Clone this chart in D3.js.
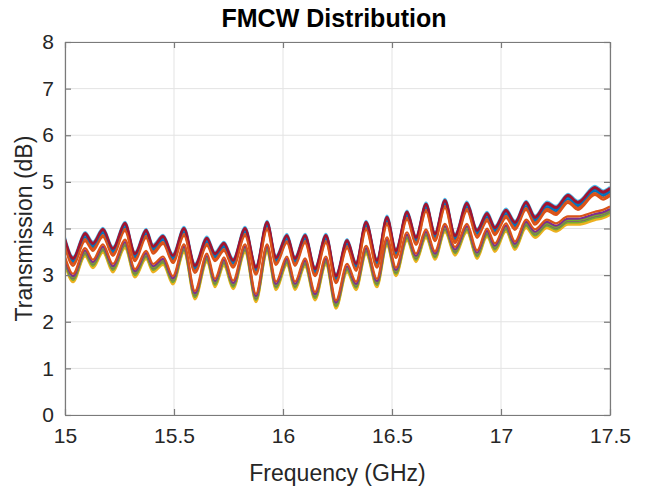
<!DOCTYPE html>
<html>
<head>
<meta charset="utf-8">
<script src="https://cdn.jsdelivr.net/npm/d3@7"></script>
<style>
  html, body { margin: 0; padding: 0; background: #fff; }
  svg { display: block; font-family: "Liberation Sans", Arial, Helvetica, sans-serif; }
</style>
</head>
<body>
<svg id="chart" width="654" height="494"></svg>
<script>
// ---- data ----
const freqs = [15.000, 15.037, 15.092, 15.128, 15.174, 15.220, 15.275, 15.321, 15.372, 15.404,
  15.450, 15.495, 15.546, 15.596, 15.651, 15.688, 15.729, 15.771, 15.826, 15.876,
  15.927, 15.968, 16.018, 16.055, 16.101, 16.147, 16.197, 16.243, 16.294, 16.335,
  16.381, 16.431, 16.477, 16.518, 16.569, 16.610, 16.656, 16.697, 16.743, 16.789,
  16.844, 16.890, 16.936, 16.972, 17.023, 17.064, 17.115, 17.156, 17.211, 17.252,
  17.307, 17.353, 17.431, 17.468, 17.500];

// upper bundle, top trace (dB)
const upperTop = [3.78, 3.37, 3.90, 3.69, 3.99, 3.58, 4.12, 3.47, 3.97, 3.63,
  3.84, 3.43, 4.01, 3.22, 3.80, 3.47, 3.69, 3.33, 4.01, 3.18,
  4.14, 3.39, 3.86, 3.37, 3.86, 3.15, 3.86, 3.00, 3.75, 3.26,
  4.14, 3.33, 4.25, 3.54, 4.36, 3.82, 4.53, 3.90, 4.61, 3.86,
  4.55, 3.97, 4.33, 4.03, 4.40, 4.14, 4.57, 4.25, 4.55, 4.46,
  4.72, 4.57, 4.89, 4.79, 4.87];

// lower bundle, bottom trace (dB)
const lowerBottom = [3.22, 2.85, 3.40, 3.15, 3.48, 3.06, 3.58, 2.95, 3.34, 3.06,
  3.22, 2.80, 3.48, 2.48, 3.28, 2.74, 3.20, 2.70, 3.48, 2.42,
  3.48, 2.68, 3.22, 2.68, 3.18, 2.46, 3.22, 2.28, 3.06, 2.68,
  3.45, 2.74, 3.63, 2.98, 3.74, 3.28, 3.80, 3.33, 3.92, 3.42,
  3.92, 3.35, 3.82, 3.50, 3.93, 3.54, 4.01, 3.80, 4.01, 3.93,
  4.08, 4.08, 4.18, 4.22, 4.29];

// individual measured traces: colour, bundle and offset (dB) within the bundle
const traceColors  = ["#4DBEEE", "#0072BD", "#D95319", "#0072BD", "#A2142F", "#A2142F", "#D95319",
                      "#EDB120", "#EDB120", "#77AC30", "#7E2F8E", "#77AC30", "#7E2F8E", "#D95319"];
const traceBundle  = ["upper", "upper", "upper", "upper", "upper", "upper", "upper",
                      "lower", "lower", "lower", "lower", "lower", "lower", "lower"];
const traceOffsets = [0.025, -0.09, -0.13, -0.05, -0.02, 0.00, -0.17,
                      0.00, 0.03, 0.05, 0.09, 0.10, 0.13, 0.18];

const xTicks = [15, 15.5, 16, 16.5, 17, 17.5];
const yTicks = [0, 1, 2, 3, 4, 5, 6, 7, 8];

const titleText = "FMCW Distribution";
const xLabel = "Frequency (GHz)";
const yLabel = "Transmission (dB)";

// ---- layout ----
const W = 654, H = 494;
const m = { left: 65, right: 44, top: 42, bottom: 79 };
const iw = W - m.left - m.right, ih = H - m.top - m.bottom;

const svg = d3.select("#chart");
const g = svg.append("g").attr("transform", `translate(${m.left},${m.top})`);

const x = d3.scaleLinear().domain([15, 17.5]).range([0, iw]);
const y = d3.scaleLinear().domain([0, 8]).range([ih, 0]);

// grid
g.append("g").selectAll("line").data(xTicks).join("line")
  .attr("x1", d => x(d)).attr("x2", d => x(d)).attr("y1", 0).attr("y2", ih)
  .attr("stroke", "#e3e3e3").attr("stroke-width", 1);
g.append("g").selectAll("line").data(yTicks).join("line")
  .attr("y1", d => y(d)).attr("y2", d => y(d)).attr("x1", 0).attr("x2", iw)
  .attr("stroke", "#e3e3e3").attr("stroke-width", 1);

// lines
svg.append("defs").append("clipPath").attr("id", "clip")
  .append("rect").attr("width", iw).attr("height", ih);

const traces = traceColors.map((c, i) => {
  const base = traceBundle[i] === "upper" ? upperTop : lowerBottom;
  return { color: c, values: freqs.map((f, j) => ({ f, v: base[j] + traceOffsets[i] })) };
});

const line = d3.line().x(d => x(d.f)).y(d => y(d.v)).curve(d3.curveMonotoneX);
g.append("g").attr("clip-path", "url(#clip)").selectAll("path").data(traces).join("path")
  .attr("d", d => line(d.values))
  .attr("fill", "none").attr("stroke", d => d.color).attr("stroke-width", 2.2)
  .attr("stroke-linejoin", "round");

// axes (MATLAB-like box with inward ticks)
const axColor = "#7a7a7a";
const tickLen = 6;
const fontColor = "#262626";

const xAxisB = d3.axisBottom(x).tickValues(xTicks).tickSizeInner(-tickLen).tickSizeOuter(0)
  .tickPadding(13).tickFormat(d3.format("~g"));
const xAxisT = d3.axisTop(x).tickValues(xTicks).tickSizeInner(-tickLen).tickSizeOuter(0).tickFormat("");
const yAxisL = d3.axisLeft(y).tickValues(yTicks).tickSizeInner(-tickLen).tickSizeOuter(0)
  .tickPadding(11).tickFormat(d3.format("d"));
const yAxisR = d3.axisRight(y).tickValues(yTicks).tickSizeInner(-tickLen).tickSizeOuter(0).tickFormat("");

function style(sel) {
  sel.select(".domain").attr("stroke", axColor).attr("stroke-width", 1.2);
  sel.selectAll(".tick line").attr("stroke", axColor).attr("stroke-width", 1.2);
  sel.selectAll(".tick text").attr("fill", fontColor).attr("font-size", 21)
    .attr("font-family", "Liberation Sans, Arial, sans-serif");
}
g.append("g").attr("transform", `translate(0,${ih})`).call(xAxisB).call(style)
  .selectAll(".tick text").attr("dy", "0.71em");
g.append("g").call(xAxisT).call(style);
g.append("g").call(yAxisL).call(style);
g.append("g").attr("transform", `translate(${iw},0)`).call(yAxisR).call(style);

// texts
svg.append("text").attr("x", 334).attr("y", 27).attr("text-anchor", "middle")
  .attr("font-size", 25).attr("font-weight", "bold").attr("fill", "#000").text(titleText);
svg.append("text").attr("x", m.left + iw / 2).attr("y", 481).attr("text-anchor", "middle")
  .attr("font-size", 23).attr("fill", fontColor).text(xLabel);
svg.append("text").attr("transform", `translate(32,${m.top + ih / 2}) rotate(-90)`)
  .attr("text-anchor", "middle").attr("font-size", 23).attr("fill", fontColor).text(yLabel);
</script>
</body>
</html>
